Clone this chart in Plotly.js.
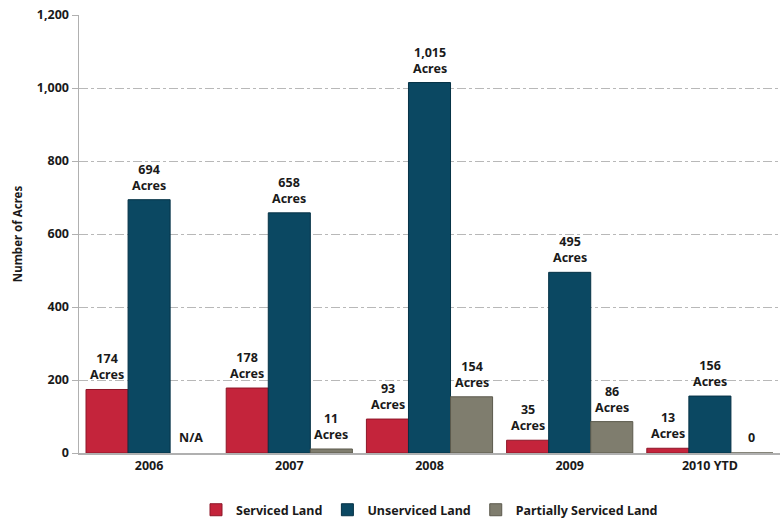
<!DOCTYPE html>
<html><head><meta charset="utf-8">
<script src="https://cdn.plot.ly/plotly-3.0.1.min.js"></script>
<style>html,body{margin:0;padding:0;background:#fff}#chart{width:780px;height:520px}</style>
</head><body><div id="chart"></div>
<script>
const categories = ["2006", "2007", "2008", "2009", "2010 YTD"];
const servicedLand = [174, 178, 93, 35, 13];
const unservicedLand = [694, 658, 1015, 495, 156];
const partiallyServicedLand = [null, 11, 154, 86, 0];
const yTickVals = [0, 200, 400, 600, 800, 1000, 1200];
const yTickText = ["0", "200", "400", "600", "800", "1,000", "1,200"];

const FONT = "Noto Sans, Open Sans, sans-serif";
const series = [
  {name: "Serviced Land", y: servicedLand, color: "#c4243b", line: "#8e1628"},
  {name: "Unserviced Land", y: unservicedLand, color: "#0b4862", line: "#063246"},
  {name: "Partially Serviced Land", y: partiallyServicedLand, color: "#7f7d6e", line: "#5c5a4d"}
];
const traces = series.map(s => ({
  type: "bar", name: s.name, x: categories, y: s.y,
  marker: {color: s.color, line: {color: s.line, width: 1}},
  hoverinfo: "skip"
}));

const fmt = v => v.toLocaleString("en-US");
const annotations = [];
const offsets = [-42, 0, 42];
series.forEach((s, si) => {
  s.y.forEach((v, ci) => {
    let text;
    if (v === null) text = "<b>N/A</b>";
    else if (v === 0) text = "<b>0</b>";
    else text = "<b>" + fmt(v) + "</b><br><b>Acres</b>";
    annotations.push({
      x: ci, y: v === null ? 0 : v, xref: "x", yref: "y",
      xshift: offsets[si], yshift: (v === null || v === 0) ? 5 : 4,
      yanchor: "bottom", showarrow: false, text: text,
      font: {family: FONT, size: 12.5, color: "#1a1a1a"}, align: "center"
    });
  });
});

const layout = {
  width: 780, height: 520,
  margin: {l: 79, r: 0, t: 15, b: 67, autoexpand: false},
  paper_bgcolor: "#fff", plot_bgcolor: "#fff",
  barmode: "group", bargap: 0.1, bargroupgap: 0,
  font: {family: FONT, color: "#1a1a1a"},
  xaxis: {
    type: "category", range: [-0.5, 4.5], showgrid: false, showline: true, linecolor: "#b0b0b0", linewidth: 1.5,
    ticks: "", tickfont: {family: FONT, size: 12.5, color: "#1a1a1a", weight: "bold"},
    fixedrange: true
  },
  yaxis: {
    range: [0, 1200], tickvals: yTickVals, ticktext: yTickText,
    showgrid: true, gridcolor: "#b8b8b8", griddash: "dashdot", gridwidth: 1,
    showline: true, linecolor: "#b0b0b0", linewidth: 1.5, zeroline: false,
    ticks: "outside", ticklen: 6, tickcolor: "#b0b0b0",
    tickfont: {family: FONT, size: 12.5, color: "#1a1a1a", weight: "bold"},
    title: {text: "Number of Acres", font: {family: FONT, size: 11.5, color: "#1a1a1a", weight: "bold"}, standoff: 12}
  },
  legend: {
    orientation: "h", x: 0.5, xanchor: "center", yref: "container", y: 0.019, yanchor: "middle",
    font: {family: FONT, size: 12.5, color: "#1a1a1a", weight: "bold"},
    traceorder: "normal", itemwidth: 30
  },
  annotations: annotations,
  showlegend: true
};
Plotly.newPlot("chart", traces, layout, {staticPlot: true, displayModeBar: false});
</script></body></html>
